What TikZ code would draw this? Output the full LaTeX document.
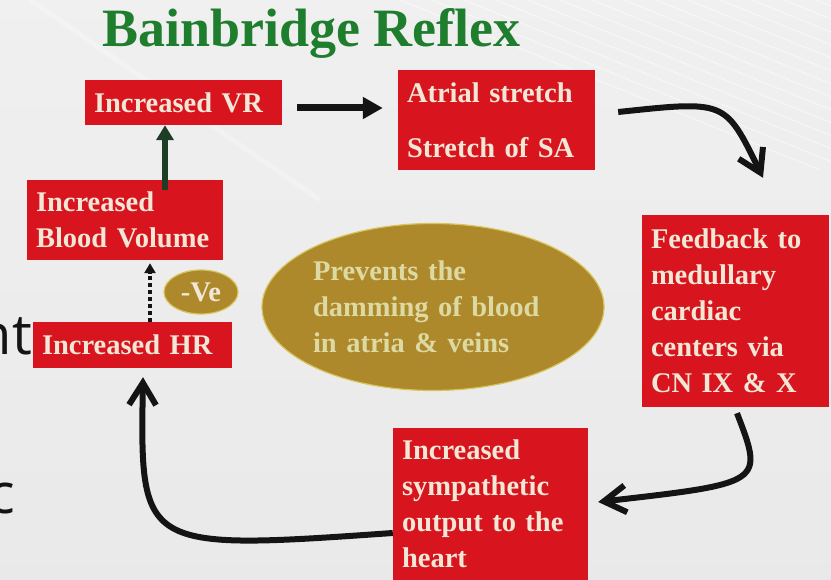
\documentclass[tikz,border=0pt]{standalone}
\usepackage{fontspec}
\setmainfont{Liberation Serif}
\newfontfamily\slidefont{Open Sans}
\usetikzlibrary{arrows.meta,shapes.geometric}

\definecolor{boxred}{HTML}{D8141E}
\definecolor{cream}{HTML}{F1E7D6}
\definecolor{titlegreen}{HTML}{1F7D2E}
\definecolor{gold}{HTML}{AE892B}
\definecolor{goldedge}{HTML}{D8C45C}
\definecolor{paletext}{HTML}{DCD9A2}
\definecolor{darkgreen}{HTML}{1E3D26}
\definecolor{inkblack}{HTML}{141414}

\tikzset{
  redbox/.style={rectangle, fill=boxred, text=cream, align=left,
    inner xsep=9pt, inner ysep=0pt, font=\bfseries\fontsize{28.5}{36}\selectfont},
  goldoval/.style={ellipse, fill=gold, draw=goldedge, line width=1.2pt, inner sep=0pt,
    font=\bfseries\fontsize{28.5}{36}\selectfont},
  bigarrow/.style={inkblack, line width=6pt, -{Straight Barb[length=22pt,width=27pt]}},
}

\begin{document}
\begin{tikzpicture}[x=1pt,y=-1pt]

  % Slide background with faint white lines
  \useasboundingbox (0,0) rectangle (831,580);
  \shade[top color=white!88!gray, bottom color=white!83!gray] (0,0) rectangle (831,580);
  \foreach \i in {0,...,13}
    \draw[white, opacity=0.6, line width=0.8pt] (400+\i*32,0) -- +(420,170);
  \draw[white, opacity=0.25, line width=5pt] (30,0) -- (320,200);

  % Cut-off words of the slide behind
  \node[font=\slidefont\fontsize{56}{60}\selectfont, text=inkblack, anchor=base east, inner sep=0pt] (cutnt) at (32,355) {nt};
  \node[font=\slidefont\fontsize{56}{60}\selectfont, text=inkblack, anchor=base east, inner sep=0pt] (cutc) at (15,513) {c};

  % Title
  \node[anchor=base west, text=titlegreen, font=\bfseries\fontsize{54}{60}\selectfont, inner sep=0pt] (title) at (102,47) {Bainbridge Reflex};

  % Boxes of the loop
  \node[redbox, text width=179pt, minimum height=45pt] (vr) at (183.5,102.5) {Increased VR};
  \node[redbox, text width=179pt, minimum height=100pt] (stretch) at (496.5,120) {Atrial stretch\\[19pt]Stretch of SA};
  \node[redbox, text width=178pt, minimum height=80pt] (volume) at (125,220) {Increased\\Blood Volume};
  \node[redbox, text width=181pt, minimum height=46pt] (hr) at (132.5,345) {Increased HR};
  \node[redbox, text width=169pt, minimum height=192pt] (feedback) at (735.5,311) {Feedback to\\medullary\\cardiac\\centers via\\CN IX \& X};
  \node[redbox, text width=177pt, minimum height=152pt] (sympathetic) at (490.5,504) {Increased\\sympathetic\\output to the\\heart};

  % Gold ovals
  \node[goldoval, minimum width=342pt, minimum height=167pt, text=paletext, align=left, text width=240pt] (damming) at (433,307) {Prevents the\\damming of blood\\in atria \& veins};
  \node[goldoval, minimum width=74pt, minimum height=44pt, text=cream] (negative) at (201,292) {-Ve};

  % Straight arrows
  \draw[darkgreen, line width=6.5pt, -{Triangle[length=15pt,width=17pt]}] ([xshift=40pt,yshift=-10pt]volume.north) -- ([xshift=-18.5pt]vr.south);
  \draw[inkblack, line width=7pt, -{Triangle[length=20pt,width=21pt]}] ([xshift=15pt,yshift=-5.5pt]vr.east) -- ([xshift=-15pt,yshift=12pt]stretch.west);
  \draw[inkblack, line width=4pt, dash pattern=on 4pt off 3pt, -{Triangle[length=10pt,width=11pt]}] ([xshift=17.5pt]hr.north) -- ([xshift=25pt,yshift=-3pt]volume.south);

  % Curved arrows
  \draw[bigarrow] ([shift={(23pt,8pt)}]stretch.east) to[out=6,in=116,out distance=108pt,in distance=87pt] ([shift={(27.5pt,37pt)}]feedback.north);
  \draw[bigarrow] ([shift={(1.5pt,-6pt)}]feedback.south) to[out=-69,in=6.5,out distance=75pt,in distance=167pt] ([shift={(10pt,2pt)}]sympathetic.east);
  \draw[bigarrow] ([yshift=-29pt]sympathetic.west) to[out=184,in=-91,out distance=253pt,in distance=173pt] ([shift={(10.5pt,-9pt)}]hr.south);

\end{tikzpicture}
\end{document}
